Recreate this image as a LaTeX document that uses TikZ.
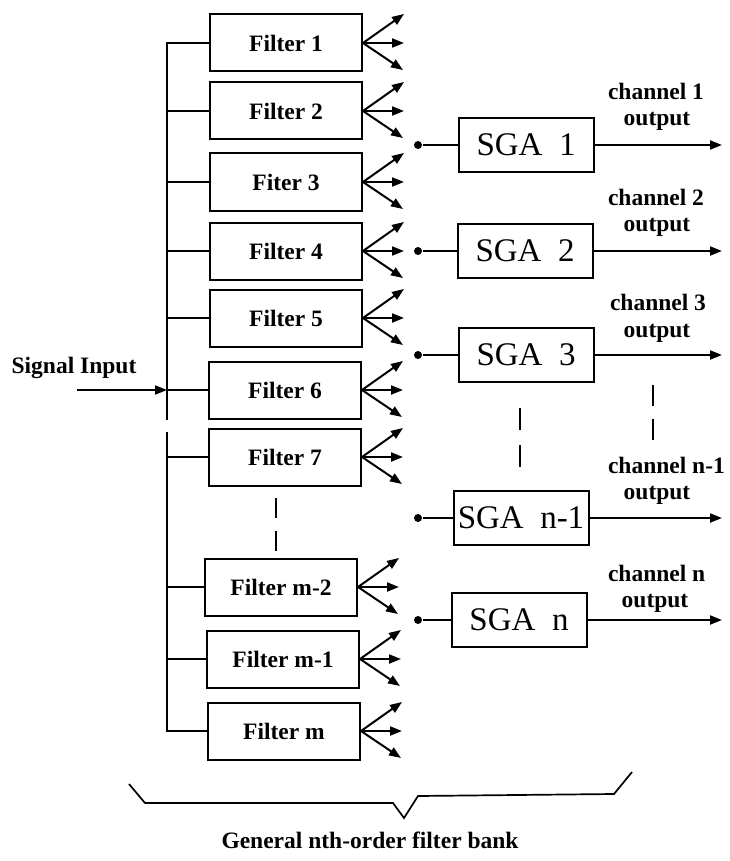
\documentclass[tikz,border=0pt]{standalone}
\usepackage{fontspec}
\setmainfont{Liberation Serif}
\usetikzlibrary{arrows.meta}

\begin{document}
\begin{tikzpicture}[x=1pt,y=-1pt,line width=2pt,
  filter/.style={draw,minimum width=152pt,minimum height=57pt,inner sep=0pt,font=\fontsize{23.5}{25}\selectfont\bfseries},
  sga/.style={draw,minimum width=135pt,minimum height=54pt,inner sep=0pt,font=\fontsize{33}{35}\selectfont},
  lbl/.style={inner sep=0pt,font=\fontsize{23.5}{25}\selectfont\bfseries},
  arrow/.style={-{Triangle[length=12pt,width=9pt]}},
  dot/.style={circle,fill,inner sep=0pt,minimum size=8pt},
  gapline/.style={line width=1.8pt,dash pattern=on 20pt off 13pt}
]
\useasboundingbox (0,0) rectangle (729,861);

% filter bank
\node[filter] (f1) at (286,43) {Filter 1};
\node[filter] (f2) at (286,111) {Filter 2};
\node[filter] (f3) at (286,182) {Fiter 3};
\node[filter] (f4) at (286,251) {Filter 4};
\node[filter] (f5) at (286,318) {Filter 5};
\node[filter] (f6) at (285,390) {Filter 6};
\node[filter] (f7) at (285,457) {Filter 7};
\node[filter] (fm2) at (281,587) {Filter m-2};
\node[filter] (fm1) at (283,659) {Filter m-1};
\node[filter] (fm) at (284,731) {Filter m};

% input bus
\coordinate (busa) at (167,420);
\coordinate (busb) at (167,432);
\coordinate (sigin) at (77,390);
\draw (f1.west) -| (busa);
\draw (busb) |- (fm.west);
\foreach \f in {f2,f3,f4,f5,f6,f7,fm2,fm1}
  \draw (\f.west) -- (\f.west -| busa);
\draw[arrow] (sigin) -- (sigin -| busa);
\node[lbl] (sig) at (74,368) {Signal Input};

% output fans
\foreach \f in {f1,f2,f3,f4,f5,f6,f7,fm2,fm1,fm} {
  \path (\f.east) ++(41,-29) coordinate (\f-up)
        (\f.east) ++(41,0) coordinate (\f-mid)
        (\f.east) ++(40,27) coordinate (\f-dn);
  \draw[arrow] (\f.east) -- (\f-up);
  \draw[arrow] (\f.east) -- (\f-mid);
  \draw[arrow] (\f.east) -- (\f-dn);
}

\coordinate (fdotsa) at (276,498);
\coordinate (fdotsb) at (276,551);
\draw[gapline] (fdotsa) -- (fdotsb);

% SGA channels
\node[sga] (s1) at (526,145) {SGA~~1};
\node[sga] (s2) at (525,251) {SGA~~2};
\node[sga] (s3) at (526,355) {SGA~~3};
\node[sga] (sn1) at (521,518) {SGA~~n-1};
\node[sga] (sn) at (519,620) {SGA~~n};

\foreach \s/\y in {s1/145,s2/251,s3/355,sn1/518,sn/620} {
  \node[dot] (\s-in) at (418,\y) {};
  \coordinate (\s-out) at (722,\y);
  \draw (\s-in) -- (\s);
  \draw[arrow] (\s) -- (\s-out);
}

\node[lbl,anchor=west] (c1) at (607,91) {channel 1};
\node[lbl] (c1o) at (657,121) {output};
\node[lbl,anchor=west] (c2) at (607,197) {channel 2};
\node[lbl] (c2o) at (657,227) {output};
\node[lbl,anchor=west] (c3) at (609,302) {channel 3};
\node[lbl] (c3o) at (657,333) {output};
\node[lbl,anchor=west] (cn1) at (607,465) {channel n-1};
\node[lbl] (cn1o) at (657,495) {output};
\node[lbl,anchor=west] (cn) at (607,573) {channel n};
\node[lbl] (cno) at (655,603) {output};

\coordinate (sdotsa) at (520,408);
\coordinate (sdotsb) at (520,468);
\draw[gapline,dash pattern=on 22pt off 15pt] (sdotsa) -- (sdotsb);
\coordinate (odotsa) at (653,385);
\coordinate (odotsb) at (653,442);
\draw[gapline,dash pattern=on 21pt off 13pt] (odotsa) -- (odotsb);

% brace under the bank
\draw[line width=1.7pt] (129,784) -- (145,803) -- (393,803) -- (404,818)
  -- (418,796) -- (614,794) -- (632,772);
\node[lbl] (bank) at (370,840) {General nth-order filter bank};
\end{tikzpicture}
\end{document}
